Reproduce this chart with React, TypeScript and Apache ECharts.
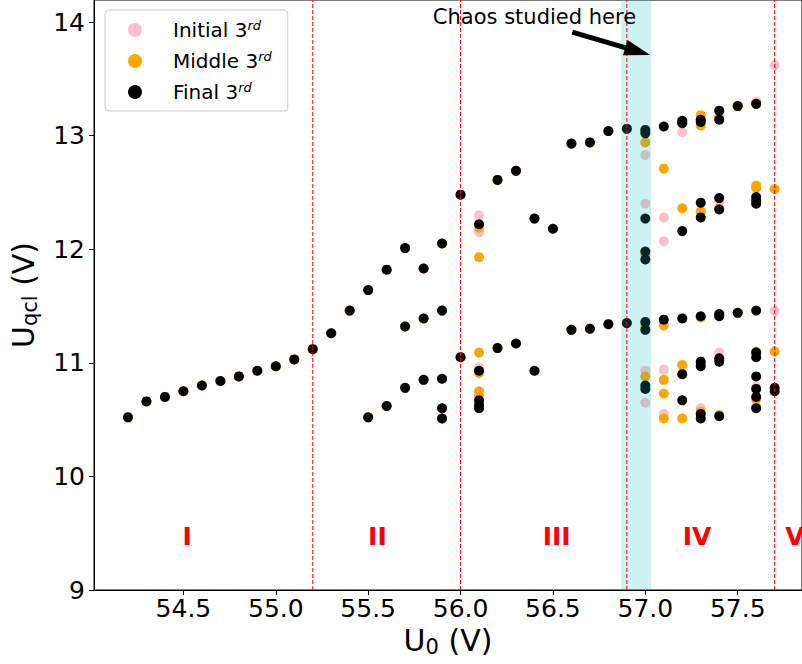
import React, { useEffect, useRef } from 'react';
import * as echarts from 'echarts';

// Points shared by all three thirds of the sweep (stable region)
const sharedPoints: [number, number][] = [
  [54.2, 10.52], [54.3, 10.66], [54.4, 10.70], [54.5, 10.75], [54.6, 10.80], [54.7, 10.84],
  [54.8, 10.88], [54.9, 10.93], [55.0, 10.97], [55.1, 11.03], [55.2, 11.12], [55.3, 11.26],
  [55.4, 11.46], [55.5, 11.64], [55.5, 10.52], [55.6, 11.82], [55.6, 10.62],
  [55.7, 12.01], [55.7, 11.32], [55.7, 10.78],
  [55.8, 11.83], [55.8, 11.39], [55.8, 10.85],
  [55.9, 12.05], [55.9, 11.46], [55.9, 10.86], [55.9, 10.60], [55.9, 10.51],
  [56.0, 12.48], [56.0, 11.05],
  [56.2, 12.61], [56.2, 11.13], [56.3, 12.69], [56.3, 11.17], [56.4, 12.27], [56.4, 10.93],
  [56.5, 12.18], [56.6, 12.93], [56.6, 11.29], [56.7, 12.94], [56.7, 11.30],
  [56.8, 13.04], [56.8, 11.34], [56.9, 13.06], [56.9, 11.35],
];

const initialExtra: [number, number][] = [
  [56.1, 12.30], [56.1, 12.15], [56.1, 10.96],
  [57.0, 13.05], [57.0, 12.83], [57.0, 12.40], [57.0, 10.93], [57.0, 10.65],
  [57.1, 13.08], [57.1, 12.28], [57.1, 12.07], [57.1, 10.94], [57.1, 10.55],
  [57.2, 13.03], [57.2, 11.40],
  [57.3, 13.14], [57.3, 12.34], [57.3, 10.60],
  [57.4, 13.22], [57.4, 12.42], [57.4, 11.09],
  [57.5, 13.26], [57.5, 11.44],
  [57.6, 13.30], [57.6, 11.09], [57.6, 10.79],
  [57.7, 13.62], [57.7, 11.46],
];

const middleExtra: [number, number][] = [
  [56.1, 12.19], [56.1, 11.93], [56.1, 11.09], [56.1, 10.91], [56.1, 10.75], [56.1, 10.71],
  [57.0, 12.94], [57.0, 11.95], [57.0, 11.33], [57.0, 10.88],
  [57.1, 12.71], [57.1, 11.33], [57.1, 10.85], [57.1, 10.73], [57.1, 10.51],
  [57.2, 13.12], [57.2, 12.36], [57.2, 10.98], [57.2, 10.51],
  [57.3, 13.18], [57.3, 13.09], [57.3, 12.33], [57.3, 11.40], [57.3, 10.99], [57.3, 10.57],
  [57.4, 13.16], [57.4, 12.36], [57.4, 11.42], [57.4, 10.54],
  [57.5, 13.26], [57.5, 11.44],
  [57.6, 13.28], [57.6, 12.56], [57.6, 12.54], [57.6, 11.10], [57.6, 10.68], [57.6, 10.61],
  [57.7, 12.53], [57.7, 11.10],
];

const finalExtra: [number, number][] = [
  [56.1, 12.22], [56.1, 10.93], [56.1, 10.67], [56.1, 10.63], [56.1, 10.60],
  [57.0, 13.05], [57.0, 13.02], [57.0, 12.27], [57.0, 11.98], [57.0, 11.91], [57.0, 11.36],
  [57.0, 11.29], [57.0, 10.80], [57.0, 10.77],
  [57.1, 13.08], [57.1, 11.38],
  [57.2, 13.13], [57.2, 13.11], [57.2, 12.16], [57.2, 11.39], [57.2, 10.90], [57.2, 10.67],
  [57.3, 13.14], [57.3, 13.12], [57.3, 12.41], [57.3, 12.28], [57.3, 11.41], [57.3, 11.01],
  [57.3, 10.97], [57.3, 10.55], [57.3, 10.51],
  [57.4, 13.22], [57.4, 13.14], [57.4, 12.45], [57.4, 12.35], [57.4, 11.43], [57.4, 11.41],
  [57.4, 11.04], [57.4, 11.01], [57.4, 10.53],
  [57.5, 13.26], [57.5, 11.44],
  [57.6, 13.28], [57.6, 12.46], [57.6, 12.43], [57.6, 12.40], [57.6, 11.46], [57.6, 11.09],
  [57.6, 11.05], [57.6, 10.88], [57.6, 10.77], [57.6, 10.70], [57.6, 10.60],
  [57.7, 10.78], [57.7, 10.75],
];

const regionLines = [55.2, 56.0, 56.9, 57.7];
const chaosBand: [number, number] = [56.87, 57.03];
const regionLabels = [
  { name: 'I', value: [54.52, 9.47] },
  { name: 'II', value: [55.55, 9.47] },
  { name: 'III', value: [56.52, 9.47] },
  { name: 'IV', value: [57.28, 9.47] },
  { name: 'V', value: [57.81, 9.47] },
];
const annotationText = { name: 'Chaos studied here', value: [56.4, 14.04] };
const arrowTail: [number, number] = [56.605, 13.912];
const arrowHead: [number, number] = [56.959, 13.742];

const X_MIN = 54.016;
const X_MAX = 57.848;
const Y_MIN = 9;
const Y_MAX = 14.194;

const xTicks = [54.5, 55.0, 55.5, 56.0, 56.5, 57.0, 57.5];
const yTicks = [9, 10, 11, 12, 13, 14];

const seriesNames = ['Initial 3rd', 'Middle 3rd', 'Final 3rd'];
const seriesColors = ['#ffc0cb', '#ffa500', '#000000'];

const FONT = 'DejaVu Sans';

export default function App() {
  const ref = useRef<HTMLDivElement>(null);

  useEffect(() => {
    if (!ref.current) return;
    const chart = echarts.init(ref.current, undefined, { renderer: 'svg' });
    const datasets = [
      [...sharedPoints, ...initialExtra],
      [...sharedPoints, ...middleExtra],
      [...sharedPoints, ...finalExtra],
    ];
    const pointSeries = seriesNames.map((name, i) => ({
      name,
      type: 'scatter',
      data: datasets[i],
      symbol: 'circle',
      symbolSize: 10,
      itemStyle: { color: seriesColors[i], opacity: 1 },
      z: 2 + i,
      silent: true,
    }));

    const lineSeries = regionLines.map((x, i) => ({
      name: `boundary${i}`,
      type: 'line',
      data: [[x, Y_MIN], [x, Y_MAX]],
      symbol: 'none',
      z: 11,
      silent: true,
      lineStyle: { color: '#ff0000', width: 1, type: [4, 2] },
      itemStyle: { color: '#ff0000' },
    }));

    chart.setOption({
      animation: false,
      textStyle: { fontFamily: FONT },
      grid: {
        left: 94,
        right: -1,
        top: 0,
        bottom: 74,
        show: true,
        borderColor: '#000',
        borderWidth: 1,
      },
      legend: {
        data: seriesNames,
        orient: 'vertical',
        left: 105,
        top: 10,
        itemWidth: 14,
        itemHeight: 14,
        itemGap: 10,
        padding: [9, 16, 9, 23],
        icon: 'circle',
        borderColor: '#cccccc',
        borderWidth: 1,
        borderRadius: 4,
        backgroundColor: 'rgba(255,255,255,0.8)',
        formatter: (name: string) => `{t|${name.replace(/rd$/, '')}}{s|rd}`,
        textStyle: {
          fontFamily: FONT,
          color: '#000',
          padding: [0, 0, 0, 26],
          rich: {
            t: { fontSize: 20, fontFamily: FONT, color: '#000', lineHeight: 22 },
            s: {
              fontSize: 13,
              fontStyle: 'italic',
              fontFamily: FONT,
              color: '#000',
              verticalAlign: 'top',
              lineHeight: 12,
            },
          },
        },
      },
      xAxis: {
        type: 'value',
        min: X_MIN,
        max: X_MAX,
        name: '{u|U}{s|0}{u| (V)}',
        nameLocation: 'middle',
        nameGap: 32,
        nameTextStyle: {
          rich: {
            u: { fontSize: 30, fontFamily: FONT, color: '#000', lineHeight: 34 },
            s: { fontSize: 21, fontFamily: FONT, color: '#000', verticalAlign: 'bottom', lineHeight: 22 },
          },
        },
        axisLine: { show: true, lineStyle: { color: '#000', width: 1 } },
        axisTick: { show: true, length: 5, lineStyle: { color: '#000' }, customValues: xTicks },
        axisLabel: {
          customValues: xTicks,
          formatter: (v: number) => v.toFixed(1),
          fontSize: 25,
          fontFamily: FONT,
          color: '#000',
          margin: 6,
        },
        splitLine: { show: false },
      },
      yAxis: {
        type: 'value',
        min: Y_MIN,
        max: Y_MAX,
        name: '{u|U}{s|qcl}{u| (V)}',
        nameLocation: 'middle',
        nameGap: 54,
        nameRotate: 90,
        nameTextStyle: {
          rich: {
            u: { fontSize: 30, fontFamily: FONT, color: '#000', lineHeight: 34 },
            s: { fontSize: 21, fontFamily: FONT, color: '#000', verticalAlign: 'bottom', lineHeight: 22 },
          },
        },
        axisLine: { show: true, lineStyle: { color: '#000', width: 1 } },
        axisTick: { show: true, length: 5, lineStyle: { color: '#000' }, customValues: yTicks },
        axisLabel: {
          customValues: yTicks,
          formatter: (v: number) => String(v),
          fontSize: 25,
          fontFamily: FONT,
          color: '#000',
          margin: 9,
        },
        splitLine: { show: false },
      },
      series: [
        ...pointSeries,
        {
          name: 'overlay',
          type: 'scatter',
          data: [],
          z: 10,
          silent: true,
          markArea: {
            silent: true,
            z: 10,
            itemStyle: { color: 'rgba(0,191,191,0.2)' },
            data: [[{ xAxis: chaosBand[0] }, { xAxis: chaosBand[1] }]],
          },
        },
        ...lineSeries,
        {
          name: 'arrow',
          type: 'scatter',
          data: [],
          z: 12,
          silent: true,
          itemStyle: { color: '#000' },
          markLine: {
            silent: true,
            z: 12,
            symbol: ['none', 'triangle'],
            symbolSize: [16, 26],
            label: { show: false },
            itemStyle: { color: '#000' },
            lineStyle: { color: '#000', width: 5, type: 'solid' },
            data: [[{ coord: arrowTail }, { coord: arrowHead }]],
          },
        },
        {
          name: 'labels',
          type: 'scatter',
          data: regionLabels,
          symbol: 'circle',
          symbolSize: 1,
          itemStyle: { color: 'rgba(255,255,255,0)' },
          z: 13,
          silent: true,
          label: {
            show: true,
            position: 'inside',
            formatter: (p: any) => p.name,
            color: '#ff0000',
            fontWeight: 'bold',
            fontSize: 25,
            fontFamily: FONT,
            textBorderWidth: 0,
            textBorderColor: 'transparent',
            opacity: 1,
          },
        },
        {
          name: 'annotation',
          type: 'scatter',
          data: [annotationText],
          symbol: 'circle',
          symbolSize: 1,
          itemStyle: { color: 'rgba(255,255,255,0)' },
          z: 13,
          silent: true,
          label: {
            show: true,
            position: 'inside',
            formatter: (p: any) => p.name,
            color: '#000',
            fontSize: 21,
            fontFamily: FONT,
            textBorderWidth: 0,
            textBorderColor: 'transparent',
            opacity: 1,
          },
        },
      ],
    });
    return () => chart.dispose();
  }, []);

  return (
    <div
      ref={ref}
      style={{ position: 'fixed', left: 0, top: 0, width: 802, height: 664, background: '#fff' }}
    />
  );
}
